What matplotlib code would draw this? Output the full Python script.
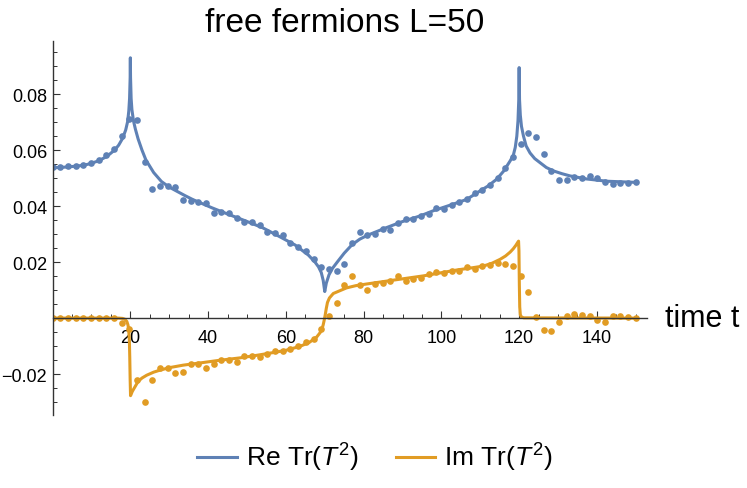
import numpy as np
import matplotlib
matplotlib.use("Agg")
import matplotlib.pyplot as plt
from matplotlib.lines import Line2D
from matplotlib.ticker import MultipleLocator, FixedLocator, FuncFormatter

plt.rcParams['font.family'] = ['Liberation Sans', 'DejaVu Sans']
plt.rcParams['mathtext.fontset'] = 'custom'
plt.rcParams['mathtext.rm'] = 'Liberation Sans'
plt.rcParams['mathtext.it'] = 'Liberation Sans:italic'

# sampled times of the numerical points (77 points on 0..150)
t_dots = [0.00, 1.97, 3.95, 5.92, 7.89, 9.87, 11.84, 13.82, 15.79, 17.76,
          19.74, 21.71, 23.68, 25.66, 27.63, 29.61, 31.58, 33.55, 35.53, 37.50,
          39.47, 41.45, 43.42, 45.39, 47.37, 49.34, 51.32, 53.29, 55.26, 57.24,
          59.21, 61.18, 63.16, 65.13, 67.11, 69.08, 71.05, 73.03, 75.00, 76.97,
          78.95, 80.92, 82.89, 84.87, 86.84, 88.82, 90.79, 92.76, 94.74, 96.71,
          98.68, 100.66, 102.63, 104.61, 106.58, 108.55, 110.53, 112.50, 114.47, 116.45,
          118.42, 120.39, 122.37, 124.34, 126.32, 128.29, 130.26, 132.24, 134.21, 136.18,
          138.16, 140.13, 142.11, 144.08, 146.05, 148.03, 150.00]

re_dots = [0.0539, 0.0539, 0.0542, 0.0544, 0.0548, 0.0555, 0.0565, 0.0581, 0.0605, 0.0649,
           0.0713, 0.0706, 0.0556, 0.0460, 0.0473, 0.0473, 0.0468, 0.0421, 0.0417, 0.0416,
           0.0410, 0.0377, 0.0379, 0.0375, 0.0356, 0.0342, 0.0343, 0.0333, 0.0308, 0.0303,
           0.0296, 0.0270, 0.0255, 0.0240, 0.0212, 0.0184, 0.0176, 0.0169, 0.0192, 0.0267,
           0.0306, 0.0296, 0.0300, 0.0320, 0.0314, 0.0339, 0.0354, 0.0354, 0.0365, 0.0371,
           0.0392, 0.0389, 0.0404, 0.0415, 0.0425, 0.0446, 0.0456, 0.0475, 0.0500, 0.0537,
           0.0577, 0.0621, 0.0661, 0.0648, 0.0587, 0.0524, 0.0494, 0.0493, 0.0505, 0.0499,
           0.0508, 0.0502, 0.0485, 0.0479, 0.0482, 0.0481, 0.0485]

im_dots = [0.0, 0.0, 0.0, 0.0, 0.0, 0.0, 0.0, 0.0, 0.0, -0.0017,
           -0.0040, -0.0221, -0.0301, -0.0221, -0.0177, -0.0177, -0.0196, -0.0192, -0.0164, -0.0164,
           -0.0177, -0.0164, -0.0149, -0.0149, -0.0158, -0.0137, -0.0135, -0.0140, -0.0129, -0.0117,
           -0.0117, -0.0111, -0.0099, -0.0085, -0.0075, -0.0039, 0.0006, 0.0054, 0.0118, 0.0151,
           0.0119, 0.0101, 0.0121, 0.0124, 0.0133, 0.0151, 0.0133, 0.0139, 0.0145, 0.0157,
           0.0163, 0.0160, 0.0169, 0.0170, 0.0181, 0.0177, 0.0187, 0.0190, 0.0198, 0.0194,
           0.0187, 0.0151, 0.0093, 0.0003, -0.0042, -0.0045, -0.0013, 0.0008, 0.0013, 0.0011,
           0.0008, -0.0006, -0.0013, 0.0008, 0.0006, 0.0005, -0.0001]

# analytic curves
re_line_t = [0, 4, 8, 10, 12, 14, 16, 17, 18, 18.8, 19.3, 19.6, 19.8, 19.95, 20, 20.05,
             20.2, 20.4, 20.8, 21.3, 22, 23, 24, 26, 28, 30, 32, 34, 36, 38, 41, 45,
             49.5, 54, 58, 62.4, 65.8, 67.5, 68.4, 69.1, 69.6, 70, 70.4, 71.1, 72, 73.2,
             75, 77, 79, 81, 86, 90, 94.5, 98, 103, 106.5, 110, 112, 114.2, 116, 117.7,
             118.5, 119, 119.4, 119.7, 119.9, 120, 120.1, 120.3, 120.6, 121.1, 121.8,
             122.8, 124, 125.4, 127, 128.8, 131, 133.1, 137.4, 142.6, 150]
re_line = [0.0537, 0.0540, 0.0546, 0.0553, 0.0563, 0.0578, 0.0601, 0.0618, 0.0642, 0.0672,
           0.0702, 0.0740, 0.0785, 0.0860, 0.0930, 0.0860, 0.0785, 0.0745, 0.0705, 0.0675,
           0.0640, 0.0600, 0.0565, 0.0520, 0.0488, 0.0468, 0.0453, 0.0438, 0.0424, 0.0412,
           0.0394, 0.0372, 0.0348, 0.0323, 0.0294, 0.0261, 0.0225, 0.0200, 0.0183, 0.0163,
           0.0135, 0.0095, 0.0125, 0.0155, 0.0178, 0.0200, 0.0232, 0.0262, 0.0282, 0.0296,
           0.0324, 0.0345, 0.0365, 0.0384, 0.0407, 0.0424, 0.0455, 0.0472, 0.0496, 0.0525,
           0.0562, 0.0582, 0.0610, 0.0650, 0.0705, 0.0780, 0.0895, 0.0780, 0.0725, 0.0685,
           0.0651, 0.0615, 0.0590, 0.0570, 0.0555, 0.0538, 0.0526, 0.0516, 0.0508, 0.0497,
           0.0489, 0.0485]

im_line_t = [0, 17, 18, 18.6, 19.1, 19.4, 19.6, 19.75, 19.85, 19.95, 20.05, 20.2, 20.5, 21,
             22, 23, 24.2, 26, 27.6, 30, 33.6, 38, 42.2, 48.2, 52, 56.8, 60, 63.6, 66, 67.9,
             68.8, 69.3, 69.6, 69.85, 70.1, 70.4, 70.7, 71.2, 72.2, 73.9, 75.6, 78, 80.8,
             86.8, 95.4, 104, 108, 110.8, 113, 115.1, 116.5, 117.7, 118.5, 119.2, 119.6,
             119.85, 119.95, 120.05, 120.15, 120.3, 120.6, 121.2, 150]
im_line = [0.0, 0.0, -0.0001, -0.0004, -0.0012, -0.0025, -0.0045, -0.0080, -0.0140, -0.0220,
           -0.0277, -0.0272, -0.0262, -0.0250, -0.0226, -0.0214, -0.0204, -0.0193, -0.0186, -0.0177,
           -0.0168, -0.0160, -0.0152, -0.0142, -0.0134, -0.0123, -0.0115, -0.0101, -0.0087, -0.0068,
           -0.0052, -0.0038, -0.0024, -0.0008, 0.0010, 0.0035, 0.0056, 0.0072, 0.0088, 0.0098,
           0.0108, 0.0116, 0.0122, 0.0134, 0.0151, 0.0172, 0.0180, 0.0186, 0.0196, 0.0210,
           0.0222, 0.0236, 0.0248, 0.0261, 0.0270, 0.0275, 0.0240, 0.0120, 0.0040, 0.0012,
           0.0004, 0.0001, 0.0]

x_major = [20, 40, 60, 80, 100, 120, 140]
y_major = [-0.02, 0.02, 0.04, 0.06, 0.08]

blue = '#5E81B5'
orange = '#E19C24'
axcol = '#333333'

fig = plt.figure(figsize=(7.47, 4.89), dpi=100)
ax = fig.add_axes([0.0704, 0.1499, 0.7953, 0.7648])

ax.plot(re_line_t, re_line, '-', color=blue, lw=2.2, solid_joinstyle='round')
ax.plot(im_line_t, im_line, '-', color=orange, lw=2.2, solid_joinstyle='round')
ax.plot(t_dots, re_dots, 'o', color=blue, ms=4.8, mew=0)
ax.plot(t_dots, im_dots, 'o', color=orange, ms=4.8, mew=0)

ax.set_xlim(0, 152.8)
ax.set_ylim(-0.0345, 0.0991)

# mathematica-like axes crossing at the origin
for s in ['top', 'right']:
    ax.spines[s].set_visible(False)
ax.spines['bottom'].set_position(('data', 0))
ax.spines['left'].set_position(('data', 0))
for s in ['bottom', 'left']:
    ax.spines[s].set_color(axcol)
    ax.spines[s].set_linewidth(1.0)

ax.xaxis.set_major_locator(FixedLocator(x_major))
ax.xaxis.set_minor_locator(MultipleLocator(5))
ax.yaxis.set_major_locator(FixedLocator(y_major))
ax.yaxis.set_minor_locator(MultipleLocator(0.005))
ax.xaxis.set_major_formatter(FuncFormatter(lambda v, p: '%d' % v))
ax.yaxis.set_major_formatter(FuncFormatter(lambda v, p: ('%.2f' % v).replace('-', '\u2212')))
ax.tick_params(which='both', direction='in', colors=axcol, labelcolor='black', labelsize=13)
ax.tick_params(which='major', length=5, width=0.8)
ax.tick_params(which='minor', length=3, width=0.7)
ax.tick_params(axis='x', which='major', pad=7.5)
ax.tick_params(axis='y', which='major', pad=4)

ax.text(157.5, 0, 'time t', fontsize=22, va='center', ha='left', clip_on=False)
fig.text(0.462, 0.952, 'free fermions L=50', fontsize=24, ha='center', va='center')

handles = [Line2D([], [], color=blue, lw=2.2), Line2D([], [], color=orange, lw=2.2)]
fig.legend(handles, ['Re Tr($T^2$)', 'Im Tr($T^2$)'], loc='center',
           bbox_to_anchor=(0.502, 0.063), ncol=2, frameon=False, fontsize=19,
           handlelength=1.5, handletextpad=0.35, columnspacing=1.4)

plt.savefig('out.png', dpi=100)
